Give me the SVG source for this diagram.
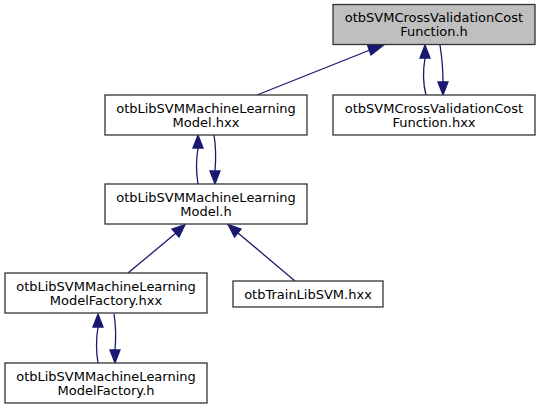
<svg xmlns="http://www.w3.org/2000/svg" width="540" height="409" viewBox="0 0 540 409">
<style>
.box{fill:#ffffff;stroke:#333333;stroke-width:1.3}
.cur{fill:#bfbfbf;stroke:#333333;stroke-width:1.3}
text{font-family:"DejaVu Sans",sans-serif;font-size:13px;fill:#000000;text-anchor:middle}
.edge{fill:none;stroke:#191970;stroke-width:1.3}
.ah{fill:#191970;stroke:#191970;stroke-width:1.3}
</style>
<rect width="540" height="409" fill="#ffffff"/>
<g id="connectors">
<path class="edge" d="M257,95 L370,50"/>
<polygon class="ah" points="367.5,45 383,45.5 371,55"/>
<path class="edge" d="M426,95 C423,84 423,70 425,58"/>
<polygon class="ah" points="420,58 425,45 430,58"/>
<path class="edge" d="M440,45 C442,58 443,70 443,82"/>
<polygon class="ah" points="438,82 443,95 448,82"/>
<path class="edge" d="M198,184 C196,172 196,160 198,148"/>
<polygon class="ah" points="193,148 198,135 203,148"/>
<path class="edge" d="M214,135 C216,147 216,159 215,171"/>
<polygon class="ah" points="210,171 215,184 220,171"/>
<path class="edge" d="M128,273 L176,233"/>
<polygon class="ah" points="172,229 185,224.5 179,237"/>
<path class="edge" d="M295,281 L238,233"/>
<polygon class="ah" points="234.5,237 228,224.5 241,229"/>
<path class="edge" d="M98,363 C96,351 96,339 98,327"/>
<polygon class="ah" points="93,327 98,314 103,327"/>
<path class="edge" d="M114,314 C116,326 116,338 115,350"/>
<polygon class="ah" points="110,350 115,363 120,350"/>
</g>
<g id="node1">
<rect class="cur" x="333" y="4.5" width="202" height="40"/>
<text x="434" y="22">otbSVMCrossValidationCost</text>
<text x="434" y="36">Function.h</text>
</g>
<g id="node2">
<rect class="box" x="105" y="95" width="202" height="40"/>
<text x="206" y="112.5">otbLibSVMMachineLearning</text>
<text x="206" y="126.5">Model.hxx</text>
</g>
<g id="node3">
<rect class="box" x="333" y="95" width="202" height="40"/>
<text x="434" y="112.5">otbSVMCrossValidationCost</text>
<text x="434" y="126.5">Function.hxx</text>
</g>
<g id="node4">
<rect class="box" x="105" y="184" width="202" height="40"/>
<text x="206" y="201.5">otbLibSVMMachineLearning</text>
<text x="206" y="215.5">Model.h</text>
</g>
<g id="node5">
<rect class="box" x="5" y="273" width="202" height="40"/>
<text x="106" y="290.5">otbLibSVMMachineLearning</text>
<text x="106" y="304.5">ModelFactory.hxx</text>
</g>
<g id="node6">
<rect class="box" x="233" y="281" width="150" height="26"/>
<text x="308" y="298.5">otbTrainLibSVM.hxx</text>
</g>
<g id="node7">
<rect class="box" x="5" y="363" width="202" height="40"/>
<text x="106" y="380.5">otbLibSVMMachineLearning</text>
<text x="106" y="394.5">ModelFactory.h</text>
</g>
</svg>
